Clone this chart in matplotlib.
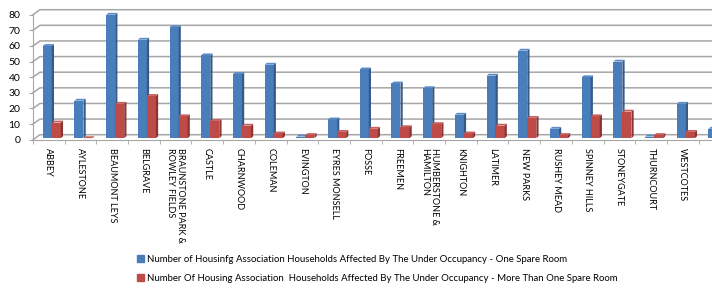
import numpy as np
import matplotlib.pyplot as plt
from matplotlib.patches import Polygon, Patch

# ward names as on the category axis
wards = ['ABBEY', 'AYLESTONE', 'BEAUMONT LEYS', 'BELGRAVE',
         'BRAUNSTONE PARK &\nROWLEY FIELDS', 'CASTLE', 'CHARNWOOD', 'COLEMAN',
         'EVINGTON', 'EYRES MONSELL', 'FOSSE', 'FREEMEN',
         'HUMBERSTONE &\nHAMILTON', 'KNIGHTON', 'LATIMER', 'NEW PARKS',
         'RUSHEY MEAD', 'SPINNEY HILLS', 'STONEYGATE', 'THURNCOURT',
         'WESTCOTES', 'WESTERN PARK']

one_room = [59, 24, 79, 63, 71, 53, 41, 47, 1, 12, 44, 35,
            32, 15, 40, 56, 6, 39, 49, 1, 22, 6]
more_rooms = [10, 0, 22, 27, 14, 11, 8, 3, 2, 4, 6, 7,
              9, 3, 8, 13, 2, 14, 17, 2, 4, 2]

series_labels = [
    'Number of Housinfg Association Households Affected By The Under Occupancy - One Spare Room',
    'Number Of Housing Association  Households Affected By The Under Occupancy - More Than One Spare Room',
]
yticks = [0, 10, 20, 30, 40, 50, 60, 70, 80]

plt.rcParams['font.family'] = ['Lato', 'DejaVu Sans']

BLUE, BLUE_SIDE, BLUE_TOP = '#4A7EBB', '#345A8A', '#5B8CC8'
RED, RED_SIDE, RED_TOP = '#BE4B48', '#8B3533', '#C9605D'
GRID = '#A6A6A6'

W, H = 712, 289
fig = plt.figure(figsize=(W / 100, H / 100), dpi=100)
px_per_cat = 31.7
px_per_val = 1.5625
ax = fig.add_axes([33 / W, (H - 139.7) / H, 22 * px_per_cat / W, 84 * px_per_val / H])
n = len(wards)
ax.set_xlim(-0.5, n - 0.5)
ax.set_ylim(0, 84)

# back wall / side wall gridlines
wall_dx, wall_dy = 0.22, 3.2
for v in yticks:
    ax.plot([-0.5, -0.5 + wall_dx, n + 1], [v, v + wall_dy, v + wall_dy],
            color=GRID, lw=1.1, zorder=1, clip_on=False)

# bars with a little depth
x = np.arange(n)
w = 0.285
ddx, ddy = 0.07, 1.2
base = 1.0


def bars3d(pos, vals, front, side, top):
    ax.bar(pos, vals, w, bottom=base, color=front, zorder=3, linewidth=0)
    for p, v in zip(pos, vals):
        l, r, t = p - w / 2, p + w / 2, base + v
        ax.add_patch(Polygon([(r, base), (r + ddx, base + ddy), (r + ddx, t + ddy), (r, t)],
                             closed=True, facecolor=side, edgecolor='none', zorder=3))
        ax.add_patch(Polygon([(l, t), (l + ddx, t + ddy), (r + ddx, t + ddy), (r, t)],
                             closed=True, facecolor=top, edgecolor='none', zorder=3))


bars3d(x - 0.05, one_room, BLUE, BLUE_SIDE, BLUE_TOP)
bars3d(x + 0.235, more_rooms, RED, RED_SIDE, RED_TOP)

# axes styling
for s in ['top', 'right']:
    ax.spines[s].set_visible(False)
ax.spines['left'].set_bounds(0, 80)
ax.spines['left'].set_color(GRID)
ax.spines['bottom'].set_color(GRID)
ax.set_yticks(yticks)
ax.tick_params(axis='y', length=3, color=GRID, labelsize=7.5, pad=6)
ax.set_xticks(x)
ax.set_xticklabels(wards, rotation=270, fontsize=6.5, va='top', ha='center',
                   multialignment='left', linespacing=1.1)
ax.set_xticks(np.arange(n + 1) - 0.5, minor=True)
ax.tick_params(axis='x', which='major', length=0, pad=6)
ax.tick_params(axis='x', which='minor', length=3, color=GRID)

fig.legend(handles=[Patch(color=BLUE), Patch(color=RED)], labels=series_labels,
           loc='upper left', bbox_to_anchor=(137 / W, 1 - 255 / H), frameon=False,
           fontsize=6.9, handlelength=0.7, handleheight=0.7, handletextpad=0.3,
           labelspacing=1.0, borderaxespad=0, borderpad=0)

fig.savefig('out.png', dpi=100)
